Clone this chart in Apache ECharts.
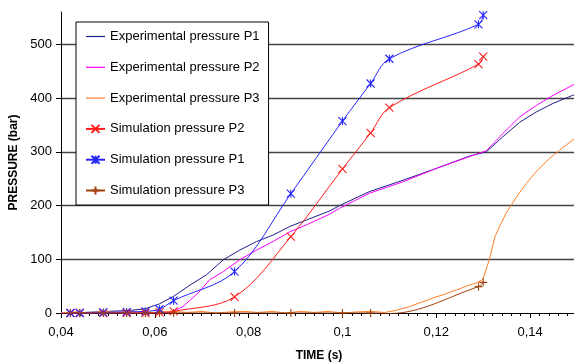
<!DOCTYPE html>
<html>
<head>
<meta charset="utf-8">
<script src="https://cdn.jsdelivr.net/npm/echarts@6/dist/echarts.min.js"></script>
<style>
  html, body { margin: 0; padding: 0; background: #fff; }
  #chart { width: 574px; height: 363px; }
</style>
</head>
<body>
<div id="chart"></div>
<script type="application/javascript">
// experimental curves
const expP1Time = [0.040, 0.045, 0.050, 0.055, 0.058, 0.061, 0.064, 0.0675, 0.071, 0.0746, 0.0781, 0.0817, 0.0852, 0.0888, 0.0923, 0.0973, 0.0994, 0.1058, 0.1129, 0.120, 0.1271, 0.1307, 0.1342, 0.1378, 0.1413, 0.1449, 0.1491, 0.150];
const expP1 = [0, 1, 3, 5, 8, 17, 31, 52, 71, 99, 117, 133, 145, 161, 173, 190, 200, 226, 247, 269, 292, 300, 328, 355, 374, 390, 405, 407];

const expP2Time = [0.040, 0.050, 0.060, 0.0635, 0.066, 0.0692, 0.0717, 0.0746, 0.0781, 0.0817, 0.0852, 0.0888, 0.0923, 0.0973, 0.0994, 0.1058, 0.1129, 0.120, 0.1271, 0.1307, 0.1342, 0.1378, 0.1413, 0.1449, 0.1491, 0.150];
const expP2 = [0, 0, 0, 1, 12, 37, 62, 77, 99, 117, 133, 151, 164, 184, 195, 223, 244, 269, 291, 302, 334, 365, 386, 405, 424, 427];

const expP3Time = [0.040, 0.043, 0.046, 0.049, 0.052, 0.055, 0.058, 0.061, 0.064, 0.067, 0.070, 0.073, 0.076, 0.079, 0.082, 0.085, 0.088, 0.091, 0.094, 0.097, 0.100, 0.103, 0.106, 0.109, 0.1115, 0.1143, 0.1168, 0.1193, 0.1218, 0.1243, 0.1265, 0.1285, 0.1299, 0.1306, 0.1314, 0.1325, 0.1335, 0.1349, 0.1371, 0.1392, 0.1413, 0.1442, 0.1463, 0.1491, 0.150];
const expP3 = [0, 2, 0, 3, 1, 3, 0, 2, 3, 1, 3, 0, 2, 3, 1, 3, 0, 3, 1, 3, 0, 2, 3, 1, 5, 12, 20, 28, 35, 43, 50, 56, 62, 80, 102, 142, 161, 186, 216, 241, 263, 288, 303, 322, 325];

// simulation points
const simTime = [0.042, 0.044, 0.049, 0.054, 0.058, 0.061, 0.064, 0.077, 0.089, 0.100, 0.106, 0.110, 0.129, 0.130];
const simP1 = [0, 0, 1, 2, 3, 7, 23, 77, 222, 357, 427, 473, 537, 554];
const simP2 = [0, 0, 0, 0, 0, 1, 3, 30, 142, 268, 335, 382, 463, 477];
const simP3 = [0, 0, 0, 0, 0, 0, 0, 0, 0, 0, 0, -1, 49, 57];

const yTicks = [0, 100, 200, 300, 400, 500];

const FONT = 'Liberation Sans';
const SYM_X = 'path://M0,0L10,10M10,0L0,10';
const SYM_STAR = 'path://M0,0L10,10M10,0L0,10M5,0L5,10';
const SYM_PLUS = 'path://M5,0L5,10M0,5L10,5';
const LEGEND_LINE = 'path://M0,0L19,0L19,1.2L0,1.2Z';

function pairs(xs, ys) {
  return xs.map((x, i) => [x, ys[i]]);
}

function expSerie(name, xs, ys, color) {
  return {
    name,
    type: 'line',
    data: pairs(xs, ys),
    symbol: 'none',
    smooth: false,
    lineStyle: { color, width: 1 },
    itemStyle: { color }
  };
}

function simSerie(name, ys, color, symbol) {
  return {
    name,
    type: 'line',
    data: pairs(simTime, ys),
    symbol,
    symbolSize: 8,
    smooth: 0.35,
    lineStyle: { color, width: 1 },
    itemStyle: { color: 'none', borderColor: color, borderWidth: 1.1 }
  };
}

const chart = echarts.init(document.getElementById('chart'));
chart.setOption({
  animation: false,
  backgroundColor: '#fff',
  grid: { left: 61, right: -3, top: 12, bottom: 50, outerBoundsMode: 'none', containLabel: false },
  legend: {
    orient: 'vertical',
    left: 76,
    top: 22,
    padding: [8, 9, 8, 9],
    itemWidth: 19,
    itemHeight: 10,
    itemGap: 17.8,
    borderColor: '#000',
    borderWidth: 1,
    backgroundColor: '#fff',
    textStyle: { fontFamily: FONT, fontSize: 13, color: '#000' },
    data: [
      { name: 'Experimental pressure P1', icon: LEGEND_LINE },
      { name: 'Experimental pressure P2', icon: LEGEND_LINE },
      { name: 'Experimental pressure P3', icon: LEGEND_LINE },
      'Simulation pressure P2', 'Simulation pressure P1', 'Simulation pressure P3'
    ]
  },
  xAxis: {
    type: 'value',
    min: 0.04,
    max: 0.15,
    interval: 0.02,
    name: 'TIME (s)',
    nameLocation: 'middle',
    nameGap: 37,
    nameTextStyle: { fontFamily: FONT, fontSize: 12, fontWeight: 'bold', color: '#000' },
    axisLine: { lineStyle: { color: '#000', width: 1 } },
    axisTick: { show: true, length: 5, lineStyle: { color: '#000' } },
    minorTick: { show: true, splitNumber: 10, length: 3, lineStyle: { color: '#000' } },
    axisLabel: {
      fontFamily: FONT, fontSize: 13, color: '#000', margin: 13, showMaxLabel: false,
      formatter: v => String(+v.toFixed(3)).replace('.', ',')
    },
    splitLine: { show: false }
  },
  yAxis: {
    type: 'value',
    min: 0,
    max: 560,
    interval: 100,
    name: 'PRESSURE (bar)',
    nameLocation: 'middle',
    nameGap: 36,
    nameTextStyle: { fontFamily: FONT, fontSize: 12, fontWeight: 'bold', color: '#000' },
    axisLine: { show: true, lineStyle: { color: '#000', width: 1 } },
    axisTick: { show: true, length: 5, lineStyle: { color: '#000' } },
    axisLabel: {
      fontFamily: FONT, fontSize: 13, color: '#000', margin: 9, showMaxLabel: false,
      formatter: v => (yTicks.includes(v) ? String(v) : '')
    },
    splitLine: { show: true, showMinLine: false, showMaxLine: false, lineStyle: { color: '#444', width: 1.4 } }
  },
  series: [
    expSerie('Experimental pressure P1', expP1Time, expP1, '#1f1f8a'),
    expSerie('Experimental pressure P2', expP2Time, expP2, '#ff00ff'),
    expSerie('Experimental pressure P3', expP3Time, expP3, '#ff7f27'),
    simSerie('Simulation pressure P2', simP2, '#ff1a1a', SYM_X),
    simSerie('Simulation pressure P1', simP1, '#2626ff', SYM_STAR),
    simSerie('Simulation pressure P3', simP3, '#a0400f', SYM_PLUS)
  ]
});
</script>
</body>
</html>
